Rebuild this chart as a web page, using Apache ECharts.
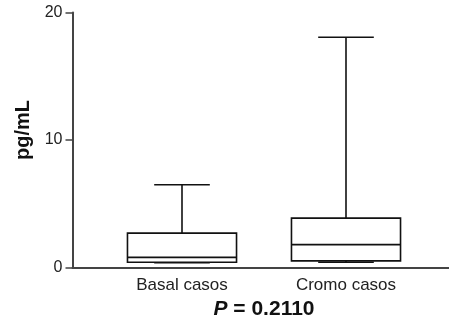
<!DOCTYPE html>
<html><head><meta charset="utf-8">
<script src="https://cdn.jsdelivr.net/npm/echarts@6/dist/echarts.min.js"></script>
<style>html,body{margin:0;padding:0;background:#fff}#c{width:449px;height:325px}</style>
</head><body><div id="c"></div>
<script>
var categories = ['Basal casos', 'Cromo casos'];
var mins = [0.27, 0.30];
var q1s = [0.30, 0.41];
var medians = [0.69, 1.69];
var q3s = [2.60, 3.78];
var maxs = [6.42, 18.05];
var yTicks = [0, 10, 20];
var yName = 'pg/mL';
var pLetter = 'P';
var pValue = ' = 0.2110';

var boxData = categories.map(function (c, i) { return [i, mins[i], q1s[i], medians[i], q3s[i], maxs[i]]; });
var lineStyle = { stroke: '#111', lineWidth: 1.6, fill: null };
var nameFont = { color: '#111', fontSize: 21, fontWeight: 'bold', fontFamily: 'Liberation Sans' };

var chart = echarts.init(document.getElementById('c'), null, { renderer: 'canvas' });
chart.setOption({
  animation: false,
  grid: [
    { left: 72.5, top: 12.5, right: 0, bottom: 57.5 },
    { left: 100, width: 328, top: 12.5, bottom: 57.5 }
  ],
  xAxis: [
    { gridIndex: 0, type: 'value', min: 0, max: 1, axisLine: { show: true, lineStyle: { color: '#444', width: 2 } },
      axisTick: { show: false }, axisLabel: { show: false }, splitLine: { show: false } },
    { gridIndex: 1, type: 'category', data: categories, axisLine: { show: false }, axisTick: { show: false },
      axisLabel: { color: '#222', fontSize: 17, fontFamily: 'Liberation Sans', margin: 11 },
      name: '{i|' + pLetter + '}{n|' + pValue + '}', nameLocation: 'middle', nameGap: 31,
      nameTextStyle: Object.assign({}, nameFont, {
        rich: { i: Object.assign({}, nameFont, { fontStyle: 'italic' }), n: Object.assign({}, nameFont) } }) }
  ],
  yAxis: [
    { gridIndex: 0, type: 'value', min: yTicks[0], max: yTicks[yTicks.length - 1], interval: 10,
      axisLine: { show: true, lineStyle: { color: '#444', width: 2 } },
      axisTick: { show: true, inside: false, length: 7, lineStyle: { color: '#444', width: 1.5 } },
      axisLabel: { color: '#222', fontSize: 16, fontFamily: 'Liberation Sans', margin: 10 },
      splitLine: { show: false } },
    { gridIndex: 1, type: 'value', min: yTicks[0], max: yTicks[yTicks.length - 1], show: false }
  ],
  graphic: [
    { type: 'text', left: 13, top: 100, rotation: Math.PI / 2,
      style: { text: yName, fill: '#111', font: 'bold 20px "Liberation Sans"' } }
  ],
  series: [{
    type: 'custom', xAxisIndex: 1, yAxisIndex: 1, data: boxData,
    renderItem: function (params, api) {
      var idx = api.value(0);
      var pMin = api.coord([idx, api.value(1)]);
      var pQ1 = api.coord([idx, api.value(2)]);
      var pMed = api.coord([idx, api.value(3)]);
      var pQ3 = api.coord([idx, api.value(4)]);
      var pMax = api.coord([idx, api.value(5)]);
      var band = api.size([1, 0])[0];
      var hw = band * 0.665 / 2;
      var cw = hw * 0.51;
      var x = pMed[0];
      return { type: 'group', children: [
        { type: 'line', shape: { x1: x, y1: pQ3[1], x2: x, y2: pMax[1] }, style: lineStyle },
        { type: 'line', shape: { x1: x - cw, y1: pMax[1], x2: x + cw, y2: pMax[1] }, style: lineStyle },
        { type: 'line', shape: { x1: x, y1: pQ1[1], x2: x, y2: pMin[1] }, style: lineStyle },
        { type: 'line', shape: { x1: x - cw, y1: pMin[1], x2: x + cw, y2: pMin[1] }, style: lineStyle },
        { type: 'rect', shape: { x: x - hw, y: pQ3[1], width: 2 * hw, height: pQ1[1] - pQ3[1] }, style: { stroke: '#111', lineWidth: 1.6, fill: '#fff' } },
        { type: 'line', shape: { x1: x - hw, y1: pMed[1], x2: x + hw, y2: pMed[1] }, style: lineStyle }
      ] };
    }
  }]
});
</script></body></html>
